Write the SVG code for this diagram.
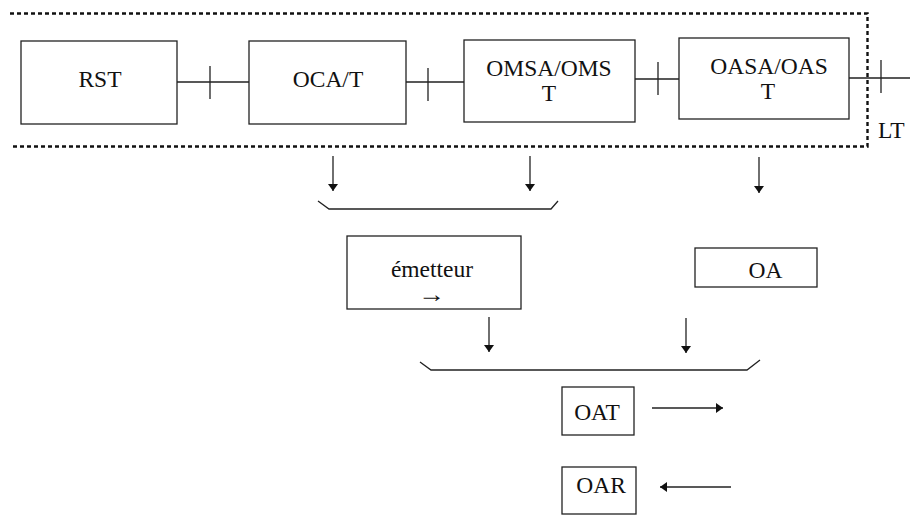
<svg xmlns="http://www.w3.org/2000/svg" width="910" height="515" viewBox="0 0 910 515">
<style>
.box{fill:#fff;stroke:#222;stroke-width:1.3}
.ln{fill:none;stroke:#222;stroke-width:1.3}
.dot{fill:none;stroke:#111;stroke-width:2.4;stroke-dasharray:4 3}
.t{font-family:'Liberation Serif','Times New Roman',Times,serif;font-size:23.5px;fill:#111;text-anchor:middle}
</style>
<defs>
<marker id="ah" viewBox="0 0 10 10" refX="10" refY="5" markerWidth="7" markerHeight="10" markerUnits="userSpaceOnUse" orient="auto" preserveAspectRatio="none">
<path d="M0,0 L10,5 L0,10 z" fill="#111"/>
</marker>
</defs>
<rect width="910" height="515" fill="#fff"/>
<path class="dot" d="M10,13.5 H867.5 V146.5 H10"/>
<g id="connectors">
<path class="ln" d="M177,82 H249 M210,66 V99"/>
<path class="ln" d="M406,82 H464 M428,68 V101"/>
<path class="ln" d="M635,79 H679 M658,62 V95"/>
<path class="ln" d="M849,78 H910 M881,60 V93"/>
<path class="ln" d="M333,156 V191" marker-end="url(#ah)"/>
<path class="ln" d="M530,156 V191" marker-end="url(#ah)"/>
<path class="ln" d="M759,157 V193" marker-end="url(#ah)"/>
<path class="ln" d="M318,201 L329,209 H551 L558,201"/>
<path class="ln" d="M489,317 V352" marker-end="url(#ah)"/>
<path class="ln" d="M686,318 V353" marker-end="url(#ah)"/>
<path class="ln" d="M420,362 L431,370 H747 L760,360"/>
<path class="ln" d="M652,408 H723" marker-end="url(#ah)"/>
<path class="ln" d="M731,487 H660" marker-end="url(#ah)"/>
</g>
<g font-family="Liberation Serif, Times New Roman, serif">
<g id="rst"><rect class="box" x="21" y="41" width="156" height="83"/><text class="t" x="100" y="87">RST</text></g>
<g id="oca"><rect class="box" x="249" y="41" width="157" height="83"/><text class="t" x="328" y="87">OCA/T</text></g>
<g id="omsa"><rect class="box" x="464" y="40" width="171" height="82"/><text class="t" x="549" y="76">OMSA/OMS</text><text class="t" x="549" y="101">T</text></g>
<g id="oasa"><rect class="box" x="679" y="38" width="170" height="81"/><text class="t" x="769" y="74">OASA/OAS</text><text class="t" x="768" y="99">T</text></g>
<text id="lt" class="t" x="878" y="138" style="text-anchor:start">LT</text>
<g id="emetteur"><rect class="box" x="347" y="236" width="174" height="73"/><text class="t" x="432" y="277">émetteur</text><text class="t" x="418" y="302" style="text-anchor:start" textLength="27" lengthAdjust="spacingAndGlyphs">→</text></g>
<g id="oa"><rect class="box" x="695" y="248" width="122" height="39"/><text class="t" x="765.5" y="278">OA</text></g>
<g id="oat"><rect class="box" x="562" y="387" width="72" height="48"/><text class="t" x="597" y="420">OAT</text></g>
<g id="oar"><rect class="box" x="562" y="467" width="74" height="47"/><text class="t" x="601" y="493">OAR</text></g>
</g>
</svg>
